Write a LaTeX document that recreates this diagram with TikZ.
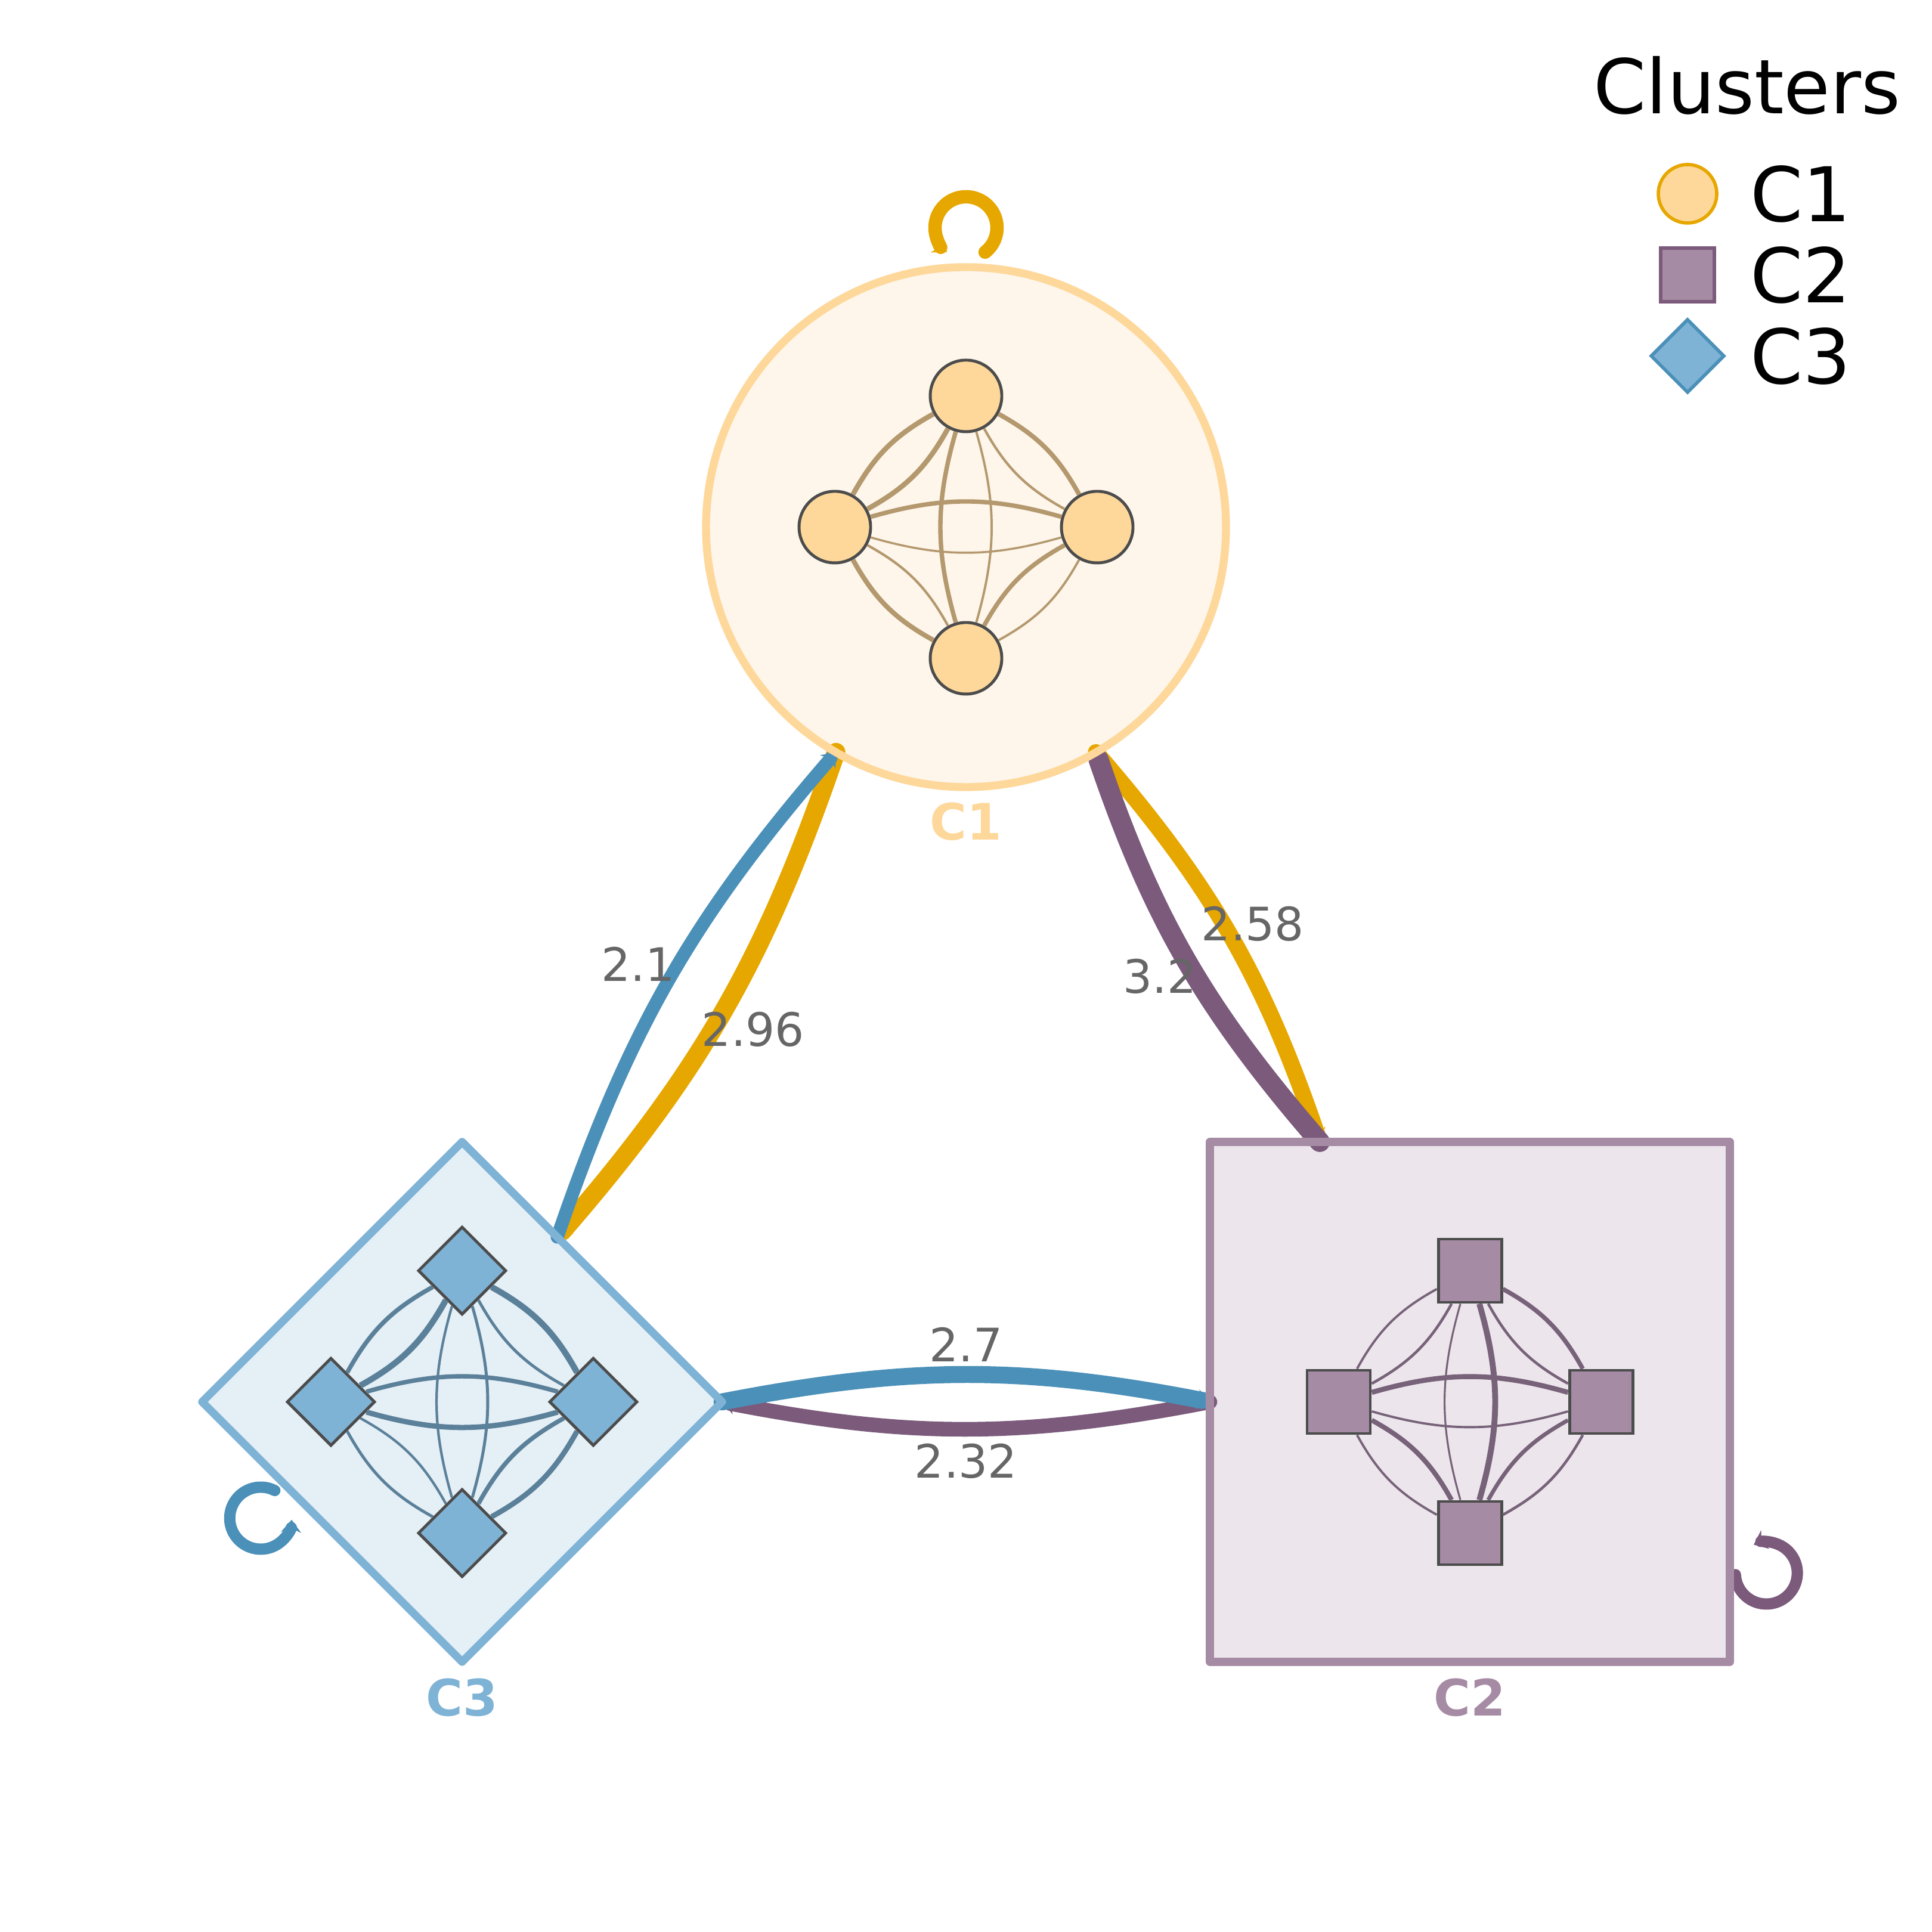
\documentclass[tikz,border=0pt]{standalone}
\usepackage{fontspec}
\setmainfont{DejaVu Sans}
\usepackage{xcolor}
\definecolor{colorOneFill}{HTML}{FEF6EB}
\definecolor{colorOneLine}{HTML}{FED89B}
\definecolor{colorOneEdge}{HTML}{B4986E}
\definecolor{colorOneOut}{HTML}{E6A700}
\definecolor{colorTwoFill}{HTML}{ECE6EC}
\definecolor{colorTwoLine}{HTML}{A68BA5}
\definecolor{colorTwoEdge}{HTML}{776279}
\definecolor{colorTwoOut}{HTML}{7B5A7B}
\definecolor{colorThreeFill}{HTML}{E4EFF6}
\definecolor{colorThreeLine}{HTML}{7FB3D6}
\definecolor{colorThreeEdge}{HTML}{5B8099}
\definecolor{colorThreeOut}{HTML}{4B90B8}
\colorlet{colorMember}{black!70}
\colorlet{colorWeight}{black!60}
\usetikzlibrary{arrows.meta, shapes.geometric, positioning}
\tikzset{
  cluster/.style={inner sep=0pt, outer sep=0pt, minimum size=4.36cm},
  member/.style={draw=colorMember, line width=0.7pt, inner sep=0pt},
  onemember/.style={member, circle, fill=colorOneLine, minimum size=0.6cm},
  twomember/.style={member, rectangle, fill=colorTwoLine, minimum size=0.53cm},
  threemember/.style={member, diamond, shape aspect=1, fill=colorThreeLine, minimum size=0.74cm},
  link/.style={line width=#1, line cap=round, -{Stealth[length=3pt, width=4.8pt]}},
  rim/.style={line width=1.9pt, line join=round},
  weight/.style={inner sep=0pt, text=colorWeight, font=\fontsize{11}{13}\selectfont},
  tag/.style={inner sep=0pt, font=\bfseries\fontsize{12}{14}\selectfont},
  keytext/.style={inner sep=0pt, font=\fontsize{18}{22}\selectfont},
}

\begin{document}
\begin{tikzpicture}[node distance=1.1cm, on grid, bend angle=16]
\useasboundingbox (0,0) rectangle (16.2,16.2);
\node[cluster, circle, fill=colorOneFill] (c1) at (8.1,11.78) {};
\node[cluster, rectangle, fill=colorTwoFill] (c2) at (12.325,4.445) {};
\node[cluster, diamond, shape aspect=1, fill=colorThreeFill] (c3) at (3.875,4.445) {};
\node[tag, text=colorOneLine, below=2.47cm of c1] (c1tag) {C1};
\node[tag, text=colorTwoLine, below=2.48cm of c2] (c2tag) {C2};
\node[tag, text=colorThreeLine, below=2.48cm of c3] (c3tag) {C3};

\coordinate[above=2.51cm of c1] (c1loop);
\coordinate (c2loop) at ([shift={(-30:2.87)}]c2.center);
\coordinate (c3loop) at ([shift={(210:1.95)}]c3.center);
\draw [link=3.2pt, colorOneOut] ([shift={(-52:0.26)}]c1loop) arc[start angle=-52, end angle=232, radius=0.26];
\draw [link=2.7pt, colorTwoOut] ([shift={(183:0.26)}]c2loop) arc[start angle=183, end angle=474, radius=0.26];
\draw [link=2.7pt, colorThreeOut] ([shift={(63:0.26)}]c3loop) arc[start angle=63, end angle=357, radius=0.26];

\draw [link=4.45pt, colorOneOut] (c1.240) to[bend left=11] (c3.60);
\draw [link=3.87pt, colorOneOut] (c1.300) to[bend left=11] (c2.120);
\draw [link=4.8pt, colorTwoOut] (c2.120) to[bend left=11] (c1.300);
\draw [link=3.5pt, colorTwoOut] (c2.west) to[bend left=11] (c3.east);
\draw [link=3.15pt, colorThreeOut] (c3.60) to[bend left=11] (c1.240);
\draw [link=4.05pt, colorThreeOut] (c3.east) to[bend left=11] (c2.west);

\draw [rim, colorOneLine] (c1.center) circle[radius=2.18cm];
\draw [rim, colorTwoLine] (c2.north west) rectangle (c2.south east);
\draw [rim, colorThreeLine] (c3.north) -- (c3.east) -- (c3.south) -- (c3.west) -- cycle;

\node[weight] (w31) at (5.35,8.115) {2.1};
\node[weight] (w13) at (6.315,7.57) {2.96};
\node[weight] (w21) at (9.725,8.015) {3.2};
\node[weight] (w12) at (10.505,8.455) {2.58};
\node[weight] (w32) at (8.1,4.925) {2.7};
\node[weight] (w23) at (8.1,3.95) {2.32};

\node[onemember, above=of c1] (c1t) {};
\node[onemember, left=of c1] (c1l) {};
\node[onemember, right=of c1] (c1r) {};
\node[onemember, below=of c1] (c1b) {};
\draw [colorOneEdge] (c1l) edge [line width=1.2pt, bend left] (c1t);
\draw [colorOneEdge] (c1t) edge [line width=1.2pt, bend left] (c1l);
\draw [colorOneEdge] (c1t) edge [line width=1.1pt, bend left] (c1r);
\draw [colorOneEdge] (c1r) edge [line width=0.6pt, bend left] (c1t);
\draw [colorOneEdge] (c1l) edge [line width=1.05pt, bend left] (c1r);
\draw [colorOneEdge] (c1r) edge [line width=0.5pt, bend left] (c1l);
\draw [colorOneEdge] (c1t) edge [line width=0.55pt, bend left] (c1b);
\draw [colorOneEdge] (c1b) edge [line width=1.05pt, bend left] (c1t);
\draw [colorOneEdge] (c1l) edge [line width=0.6pt, bend left] (c1b);
\draw [colorOneEdge] (c1b) edge [line width=1.15pt, bend left] (c1l);
\draw [colorOneEdge] (c1r) edge [line width=0.55pt, bend left] (c1b);
\draw [colorOneEdge] (c1b) edge [line width=1.05pt, bend left] (c1r);

\node[twomember, above=of c2] (c2t) {};
\node[twomember, left=of c2] (c2l) {};
\node[twomember, right=of c2] (c2r) {};
\node[twomember, below=of c2] (c2b) {};
\draw [colorTwoEdge] (c2l) edge [line width=0.55pt, bend left] (c2t);
\draw [colorTwoEdge] (c2t) edge [line width=0.65pt, bend left] (c2l);
\draw [colorTwoEdge] (c2t) edge [line width=1.05pt, bend left] (c2r);
\draw [colorTwoEdge] (c2r) edge [line width=0.65pt, bend left] (c2t);
\draw [colorTwoEdge] (c2l) edge [line width=1.2pt, bend left] (c2r);
\draw [colorTwoEdge] (c2r) edge [line width=0.55pt, bend left] (c2l);
\draw [colorTwoEdge] (c2t) edge [line width=1.4pt, bend left] (c2b);
\draw [colorTwoEdge] (c2b) edge [line width=0.45pt, bend left] (c2t);
\draw [colorTwoEdge] (c2l) edge [line width=1.15pt, bend left] (c2b);
\draw [colorTwoEdge] (c2b) edge [line width=0.55pt, bend left] (c2l);
\draw [colorTwoEdge] (c2r) edge [line width=0.65pt, bend left] (c2b);
\draw [colorTwoEdge] (c2b) edge [line width=0.95pt, bend left] (c2r);

\node[threemember, above=of c3] (c3t) {};
\node[threemember, left=of c3] (c3l) {};
\node[threemember, right=of c3] (c3r) {};
\node[threemember, below=of c3] (c3b) {};
\draw [colorThreeEdge] (c3l) edge [line width=1.05pt, bend left] (c3t);
\draw [colorThreeEdge] (c3t) edge [line width=1.45pt, bend left] (c3l);
\draw [colorThreeEdge] (c3t) edge [line width=1.45pt, bend left] (c3r);
\draw [colorThreeEdge] (c3r) edge [line width=0.7pt, bend left] (c3t);
\draw [colorThreeEdge] (c3l) edge [line width=1.05pt, bend left] (c3r);
\draw [colorThreeEdge] (c3r) edge [line width=1.25pt, bend left] (c3l);
\draw [colorThreeEdge] (c3t) edge [line width=0.7pt, bend left] (c3b);
\draw [colorThreeEdge] (c3b) edge [line width=0.6pt, bend left] (c3t);
\draw [colorThreeEdge] (c3l) edge [line width=0.6pt, bend left] (c3b);
\draw [colorThreeEdge] (c3b) edge [line width=0.7pt, bend left] (c3l);
\draw [colorThreeEdge] (c3r) edge [line width=1.25pt, bend left] (c3b);
\draw [colorThreeEdge] (c3b) edge [line width=1.05pt, bend left] (c3r);

\node[keytext] (keytitle) at (14.65,15.485) {Clusters};
\node[member, circle, draw=colorOneOut, fill=colorOneLine, line width=0.8pt, minimum size=0.49cm] (key1) at (14.15,14.575) {};
\node[member, rectangle, draw=colorTwoOut, fill=colorTwoLine, line width=0.8pt, minimum size=0.45cm] (key2) at (14.15,13.895) {};
\node[member, diamond, shape aspect=1, draw=colorThreeOut, fill=colorThreeLine, line width=0.8pt, minimum size=0.62cm] (key3) at (14.15,13.215) {};
\node[keytext, right=0.52cm of key1, anchor=west] (key1text) {C1};
\node[keytext, right=0.52cm of key2, anchor=west] (key2text) {C2};
\node[keytext, right=0.52cm of key3, anchor=west] (key3text) {C3};
\end{tikzpicture}
\end{document}
